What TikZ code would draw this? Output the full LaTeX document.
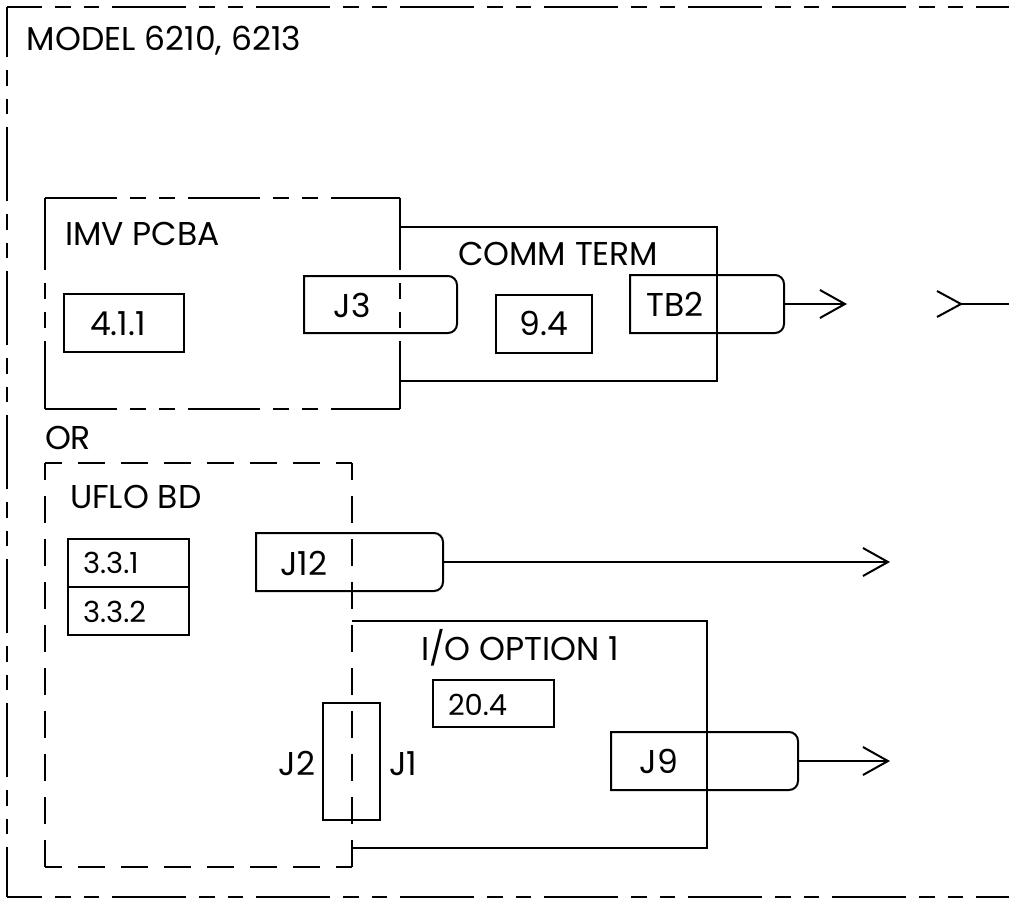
\documentclass[tikz,border=0pt]{standalone}
\usepackage{fontspec}
\setmainfont{Poppins}
\usetikzlibrary{arrows.meta}
\begin{document}
\begin{tikzpicture}[x=1pt,y=-1pt, line width=2pt,
  every node/.style={inner sep=0pt, outer sep=0pt},
  lbl/.style={font=\fontsize{33}{36}\selectfont},
  slbl/.style={font=\fontsize{29}{32}\selectfont},
  box/.style={draw, rectangle, inner sep=0pt},
  conarea/.style={rectangle, inner sep=0pt},
  outerdash/.style={dash pattern=on 74pt off 13pt on 16pt off 13pt on 15pt off 13pt},
  pcbdash/.style={dash pattern=on 72pt off 13pt on 16pt off 13pt on 16pt off 13pt, dash phase=0pt},
  ufdash/.style={dash pattern=on 27pt off 16pt, dash phase=10pt},
  arr/.style={-{Straight Barb[length=25pt, width=28pt]}},
]
\useasboundingbox (0,0) rectangle (1009,899);
% outer frame
\coordinate (otl) at (7,7);
\coordinate (obl) at (7,897);
\coordinate (otr) at (1009,7);
\coordinate (obr) at (1009,897);
\draw[outerdash, dash phase=39pt] (otl) -- (otr);
\draw[outerdash, dash phase=39pt] (obl) -- (obr);
\draw[outerdash, dash phase=24pt] (otl) -- (obl);
\node[lbl, anchor=base west] (title) at (27,51) {MODEL 6210, 6213};
% IMV PCBA
\node[conarea, minimum width=355pt, minimum height=211pt] (imv) at (222.5,303.5) {};
\draw[pcbdash] (imv.north west) -- (imv.north east);
\draw[pcbdash] (imv.south west) -- (imv.south east);
\draw[pcbdash] (imv.north west) -- (imv.south west);
\draw[pcbdash] (imv.north east) -- (imv.south east);
\node[lbl, anchor=base west] (imvt) at (65,245) {IMV PCBA};
\node[box, minimum width=120pt, minimum height=58pt] (b411) at (124,323) {};
\node[lbl, anchor=base] (t411) at (118,335) {4.1.1};
% COMM TERM
\node[conarea, minimum width=317pt, minimum height=154pt] (ct) at (558.5,304) {};
\draw (ct.north west) -- (ct.north east) -- (ct.south east) -- (ct.south west);
\node[lbl, anchor=base west] (ctt) at (458,265) {COMM TERM};
\node[box, minimum width=96pt, minimum height=58pt] (b94) at (544,324) {};
\node[lbl, anchor=base] (t94) at (544,335) {9.4};
% J3
\node[conarea, minimum width=153pt, minimum height=57pt] (j3) at (380.5,304.5) {};
\draw (j3.north west) -- ([xshift=-9pt]j3.north east) arc[start angle=90,end angle=0,radius=9pt]
  -- ([yshift=9pt]j3.south east) arc[start angle=0,end angle=-90,radius=9pt] -- (j3.south west) -- cycle;
\node[lbl, anchor=base] (tj3) at (352,317) {J3};
% TB2
\node[conarea, minimum width=154pt, minimum height=58pt] (tb2) at (707,304) {};
\draw (tb2.north west) -- ([xshift=-9pt]tb2.north east) arc[start angle=90,end angle=0,radius=9pt]
  -- ([yshift=9pt]tb2.south east) arc[start angle=0,end angle=-90,radius=9pt] -- (tb2.south west) -- cycle;
\node[lbl, anchor=base] (ttb2) at (675,316) {TB2};
\coordinate (tb2out) at (847,304);
\draw[arr] (tb2.east) -- (tb2out);
% external incoming
\coordinate (ext) at (1009,304);
\coordinate (extv) at (961,304);
\draw (ext) -- (extv);
\draw[line join=round] (937,291) -- (extv) -- (937,317);
% OR
\node[lbl, anchor=base west] (ort) at (45,449) {OR};
% UFLO BD
\node[conarea, minimum width=307pt, minimum height=404pt] (uf) at (198.5,665) {};
\draw[ufdash] (uf.north west) -- (uf.north east);
\draw[ufdash] (uf.south west) -- (uf.south east);
\draw[ufdash] (uf.north west) -- (uf.south west);
\draw[ufdash] (uf.north east) -- (uf.south east);
\node[lbl, anchor=base west] (uft) at (70,508) {UFLO BD};
\node[box, minimum width=121pt, minimum height=96pt] (b33) at (128.5,587) {};
\draw (b33.west) -- (b33.east);
\node[slbl, anchor=base west] (t331) at (83,573) {3.3.1};
\node[slbl, anchor=base west] (t332) at (83,622) {3.3.2};
% J12
\node[conarea, minimum width=187pt, minimum height=58pt] (j12) at (349.5,562) {};
\draw (j12.north west) -- ([xshift=-9pt]j12.north east) arc[start angle=90,end angle=0,radius=9pt]
  -- ([yshift=9pt]j12.south east) arc[start angle=0,end angle=-90,radius=9pt] -- (j12.south west) -- cycle;
\node[lbl, anchor=base] (tj12) at (304,575) {J12};
\coordinate (j12out) at (890,562);
\draw[arr] (j12.east) -- (j12out);
% I/O OPTION 1
\node[conarea, minimum width=355pt, minimum height=227pt] (io) at (529.5,734.5) {};
\draw (io.north west) -- (io.north east) -- (io.south east) -- (io.south west);
\node[lbl, anchor=base west] (iot) at (421,660) {I/O OPTION 1};
\node[box, minimum width=121pt, minimum height=47pt] (b204) at (493.5,703.5) {};
\node[slbl, anchor=base west] (t204) at (448,715) {20.4};
% J9
\node[conarea, minimum width=187pt, minimum height=58pt] (j9) at (704.5,761) {};
\draw (j9.north west) -- ([xshift=-9pt]j9.north east) arc[start angle=90,end angle=0,radius=9pt]
  -- ([yshift=9pt]j9.south east) arc[start angle=0,end angle=-90,radius=9pt] -- (j9.south west) -- cycle;
\node[lbl, anchor=base] (tj9) at (659,773) {J9};
\coordinate (j9out) at (890,761);
\draw[arr] (j9.east) -- (j9out);
% J2 / J1 connector
\node[box, minimum width=57pt, minimum height=117pt] (j21) at (351.5,761.5) {};
\node[lbl, anchor=base east] (tj2) at (315,775) {J2};
\node[lbl, anchor=base west] (tj1) at (389,775) {J1};
\end{tikzpicture}
\end{document}
